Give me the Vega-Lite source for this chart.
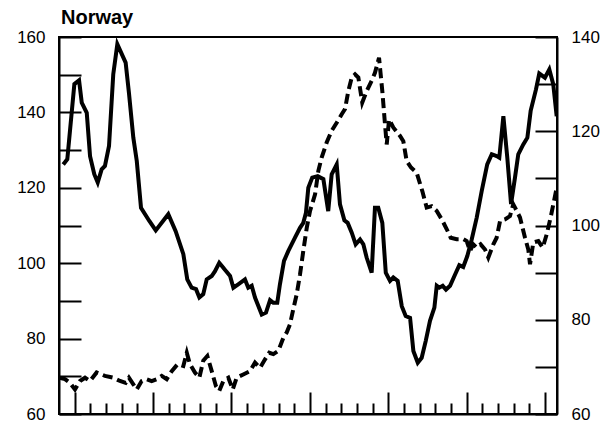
{
  "$schema": "https://vega.github.io/schema/vega-lite/v6.json",
  "width": 498,
  "height": 377,
  "autosize": {"type": "none"},
  "padding": {"left": 59, "top": 37, "right": 56, "bottom": 13},
  "background": "white",
  "title": {"text": "Norway", "anchor": "start", "frame": "group", "fontSize": 20, "fontWeight": "bold", "font": "Liberation Sans", "color": "black", "offset": 0, "dx": 2},
  "config": {
    "view": {"stroke": "black", "strokeWidth": 2},
    "axis": {"labelFont": "Liberation Sans", "labelFontSize": 17, "labelColor": "black", "domainColor": "black", "tickColor": "black", "grid": false, "title": null}
  },
  "datasets": {
    "solid": [
      {"year": 1974.27, "value": 126.2}, {"year": 1974.53, "value": 127.6}, {"year": 1974.98, "value": 147.5}, {"year": 1975.28, "value": 148.5},
      {"year": 1975.45, "value": 142.6}, {"year": 1975.77, "value": 139.9}, {"year": 1975.98, "value": 128.4}, {"year": 1976.25, "value": 123.6},
      {"year": 1976.47, "value": 121.4}, {"year": 1976.72, "value": 124.9}, {"year": 1976.93, "value": 125.8}, {"year": 1977.19, "value": 131.1},
      {"year": 1977.46, "value": 150.1}, {"year": 1977.72, "value": 158.1}, {"year": 1978.25, "value": 153.2}, {"year": 1978.46, "value": 145.2},
      {"year": 1978.74, "value": 133.3}, {"year": 1978.96, "value": 127.1}, {"year": 1979.23, "value": 114.7}, {"year": 1979.76, "value": 111.2},
      {"year": 1980.17, "value": 108.7}, {"year": 1980.97, "value": 113.0}, {"year": 1981.44, "value": 108.5}, {"year": 1981.93, "value": 102.4},
      {"year": 1982.18, "value": 95.7}, {"year": 1982.46, "value": 93.5}, {"year": 1982.74, "value": 93.1}, {"year": 1982.95, "value": 90.9},
      {"year": 1983.2, "value": 91.8}, {"year": 1983.42, "value": 95.7}, {"year": 1983.74, "value": 96.6}, {"year": 1983.95, "value": 97.9},
      {"year": 1984.22, "value": 100.1}, {"year": 1984.48, "value": 98.8}, {"year": 1984.65, "value": 97.9}, {"year": 1984.91, "value": 96.6},
      {"year": 1985.12, "value": 93.5}, {"year": 1985.43, "value": 94.4}, {"year": 1985.86, "value": 95.7}, {"year": 1986.07, "value": 93.5},
      {"year": 1986.29, "value": 94.0}, {"year": 1986.5, "value": 90.9}, {"year": 1986.93, "value": 86.4}, {"year": 1987.2, "value": 86.9},
      {"year": 1987.46, "value": 90.2}, {"year": 1987.67, "value": 89.5}, {"year": 1987.92, "value": 89.5}, {"year": 1988.09, "value": 94.4},
      {"year": 1988.35, "value": 100.6}, {"year": 1988.62, "value": 103.2}, {"year": 1989.05, "value": 106.8}, {"year": 1989.37, "value": 109.4},
      {"year": 1989.58, "value": 110.7}, {"year": 1989.75, "value": 113.4}, {"year": 1989.9, "value": 120.0}, {"year": 1990.15, "value": 122.7},
      {"year": 1990.5, "value": 123.1}, {"year": 1990.86, "value": 122.3}, {"year": 1991.17, "value": 113.8}, {"year": 1991.39, "value": 123.6},
      {"year": 1991.71, "value": 126.2}, {"year": 1991.92, "value": 115.6}, {"year": 1992.2, "value": 111.4}, {"year": 1992.41, "value": 110.7},
      {"year": 1992.67, "value": 108.1}, {"year": 1992.92, "value": 105.0}, {"year": 1993.2, "value": 106.3}, {"year": 1993.41, "value": 105.0},
      {"year": 1993.62, "value": 101.5}, {"year": 1993.94, "value": 97.5}, {"year": 1994.15, "value": 114.7}, {"year": 1994.36, "value": 114.7},
      {"year": 1994.62, "value": 110.7}, {"year": 1994.84, "value": 97.5}, {"year": 1995.11, "value": 95.3}, {"year": 1995.32, "value": 96.2},
      {"year": 1995.6, "value": 95.3}, {"year": 1995.86, "value": 88.6}, {"year": 1996.11, "value": 86.0}, {"year": 1996.39, "value": 85.5},
      {"year": 1996.6, "value": 76.7}, {"year": 1996.88, "value": 73.6}, {"year": 1997.13, "value": 74.9}, {"year": 1997.39, "value": 79.4},
      {"year": 1997.66, "value": 84.7}, {"year": 1997.94, "value": 88.2}, {"year": 1998.09, "value": 94.0}, {"year": 1998.25, "value": 93.5},
      {"year": 1998.47, "value": 94.0}, {"year": 1998.68, "value": 93.0}, {"year": 1998.94, "value": 94.0}, {"year": 1999.26, "value": 97.0},
      {"year": 1999.53, "value": 99.5}, {"year": 1999.78, "value": 99.0}, {"year": 2000.04, "value": 101.9}, {"year": 2000.32, "value": 106.3},
      {"year": 2000.64, "value": 112.1}, {"year": 2000.96, "value": 119.2}, {"year": 2001.31, "value": 126.2}, {"year": 2001.6, "value": 128.9},
      {"year": 2001.91, "value": 128.4}, {"year": 2002.08, "value": 128.0}, {"year": 2002.34, "value": 139.0}, {"year": 2002.59, "value": 128.0},
      {"year": 2002.83, "value": 115.7}, {"year": 2003.08, "value": 122.7}, {"year": 2003.29, "value": 128.9}, {"year": 2003.61, "value": 131.5},
      {"year": 2003.87, "value": 133.3}, {"year": 2004.08, "value": 140.4}, {"year": 2004.42, "value": 146.1}, {"year": 2004.63, "value": 150.3},
      {"year": 2004.99, "value": 149.2}, {"year": 2005.27, "value": 151.4}, {"year": 2005.52, "value": 147.5}, {"year": 2005.74, "value": 139.0}
    ],
    "dashed": [
      {"year": 1974.0, "value": 67.7}, {"year": 1974.38, "value": 67.4}, {"year": 1974.7, "value": 66.6}, {"year": 1975.02, "value": 65.2},
      {"year": 1975.34, "value": 67.0}, {"year": 1975.66, "value": 67.7}, {"year": 1975.98, "value": 67.0}, {"year": 1976.4, "value": 68.8},
      {"year": 1976.93, "value": 68.1}, {"year": 1977.46, "value": 67.7}, {"year": 1977.89, "value": 67.0}, {"year": 1978.25, "value": 66.6},
      {"year": 1978.46, "value": 67.7}, {"year": 1978.74, "value": 66.3}, {"year": 1978.96, "value": 65.2}, {"year": 1979.27, "value": 67.0},
      {"year": 1979.59, "value": 67.4}, {"year": 1979.91, "value": 67.0}, {"year": 1980.23, "value": 67.4}, {"year": 1980.55, "value": 68.1},
      {"year": 1980.87, "value": 67.4}, {"year": 1981.19, "value": 69.1}, {"year": 1981.57, "value": 70.6}, {"year": 1981.93, "value": 70.2},
      {"year": 1982.15, "value": 73.0}, {"year": 1982.35, "value": 70.6}, {"year": 1982.67, "value": 68.8}, {"year": 1982.95, "value": 67.7},
      {"year": 1983.2, "value": 71.3}, {"year": 1983.46, "value": 72.3}, {"year": 1983.74, "value": 69.1}, {"year": 1984.01, "value": 65.9},
      {"year": 1984.22, "value": 64.9}, {"year": 1984.48, "value": 67.0}, {"year": 1984.8, "value": 67.7}, {"year": 1985.08, "value": 65.2},
      {"year": 1985.33, "value": 67.7}, {"year": 1985.75, "value": 68.4}, {"year": 1986.18, "value": 69.1}, {"year": 1986.5, "value": 70.9},
      {"year": 1986.82, "value": 69.8}, {"year": 1987.14, "value": 71.6}, {"year": 1987.41, "value": 73.0}, {"year": 1987.67, "value": 72.7},
      {"year": 1987.99, "value": 73.4}, {"year": 1988.31, "value": 76.2}, {"year": 1988.52, "value": 77.3}, {"year": 1988.73, "value": 79.0},
      {"year": 1988.94, "value": 82.2}, {"year": 1989.16, "value": 85.4}, {"year": 1989.37, "value": 89.6}, {"year": 1989.58, "value": 94.6},
      {"year": 1989.8, "value": 99.5}, {"year": 1990.01, "value": 103.1}, {"year": 1990.33, "value": 106.6}, {"year": 1990.54, "value": 111.6},
      {"year": 1990.75, "value": 114.4}, {"year": 1991.07, "value": 117.6}, {"year": 1991.39, "value": 120.1}, {"year": 1991.71, "value": 121.8},
      {"year": 1992.03, "value": 123.6}, {"year": 1992.24, "value": 124.7}, {"year": 1992.45, "value": 128.5}, {"year": 1992.67, "value": 131.4},
      {"year": 1992.88, "value": 132.1}, {"year": 1993.09, "value": 131.4}, {"year": 1993.34, "value": 126.1}, {"year": 1993.62, "value": 128.5},
      {"year": 1993.94, "value": 130.7}, {"year": 1994.15, "value": 132.4}, {"year": 1994.41, "value": 135.6}, {"year": 1994.62, "value": 128.5},
      {"year": 1994.79, "value": 121.5}, {"year": 1994.9, "value": 117.2}, {"year": 1995.05, "value": 122.5}, {"year": 1995.32, "value": 120.8},
      {"year": 1995.75, "value": 119.0}, {"year": 1995.96, "value": 117.9}, {"year": 1996.17, "value": 113.7}, {"year": 1996.45, "value": 112.3},
      {"year": 1996.81, "value": 111.2}, {"year": 1997.17, "value": 107.3}, {"year": 1997.45, "value": 103.8}, {"year": 1997.77, "value": 104.1},
      {"year": 1998.09, "value": 103.1}, {"year": 1998.41, "value": 101.3}, {"year": 1998.73, "value": 99.2}, {"year": 1998.98, "value": 97.4},
      {"year": 1999.36, "value": 97.1}, {"year": 1999.78, "value": 97.1}, {"year": 2000.0, "value": 96.7}, {"year": 2000.21, "value": 94.6},
      {"year": 2000.42, "value": 96.0}, {"year": 2000.64, "value": 95.3}, {"year": 2000.89, "value": 96.0}, {"year": 2001.17, "value": 94.9},
      {"year": 2001.38, "value": 93.2}, {"year": 2001.7, "value": 96.0}, {"year": 2001.91, "value": 97.4}, {"year": 2002.13, "value": 101.0},
      {"year": 2002.44, "value": 101.3}, {"year": 2002.76, "value": 102.0}, {"year": 2002.97, "value": 104.5}, {"year": 2003.19, "value": 103.1},
      {"year": 2003.4, "value": 101.7}, {"year": 2003.72, "value": 97.4}, {"year": 2003.93, "value": 94.9}, {"year": 2004.04, "value": 91.8},
      {"year": 2004.25, "value": 96.4}, {"year": 2004.57, "value": 96.7}, {"year": 2004.85, "value": 95.3}, {"year": 2005.1, "value": 98.1},
      {"year": 2005.36, "value": 101.8}, {"year": 2005.74, "value": 108.0}
    ]
  },
  "layer": [
    {
      "data": {"name": "solid"},
      "mark": {"type": "line", "color": "black", "strokeWidth": 4, "clip": true},
      "encoding": {
        "x": {"field": "year", "type": "quantitative", "scale": {"domain": [1974, 2005.76], "nice": false, "zero": false},
          "axis": {"orient": "bottom", "values": [1975, 1980, 1985, 1990, 1995, 2000, 2005], "labels": false, "tickSize": -22, "tickWidth": 2, "domainWidth": 2}},
        "y": {"field": "value", "type": "quantitative", "scale": {"domain": [60, 160], "nice": false, "zero": false},
          "axis": {"orient": "left", "values": [60, 70, 80, 90, 100, 110, 120, 130, 140, 150, 160], "labelExpr": "datum.value % 20 == 0 ? datum.label : ''", "tickSize": -22, "tickWidth": 2, "domainWidth": 2, "labelPadding": 36}}
      }
    },
    {
      "data": {"name": "dashed"},
      "mark": {"type": "line", "color": "black", "strokeWidth": 4, "strokeDash": [10, 5], "clip": true},
      "encoding": {
        "x": {"field": "year", "type": "quantitative", "scale": {"domain": [1974, 2005.76], "nice": false, "zero": false},
          "axis": {"orient": "bottom", "values": [1976, 1977, 1978, 1979, 1981, 1982, 1983, 1984, 1986, 1987, 1988, 1989, 1991, 1992, 1993, 1994, 1996, 1997, 1998, 1999, 2001, 2002, 2003, 2004], "labels": false, "tickSize": -11, "tickWidth": 2, "domain": false}},
        "y": {"field": "value", "type": "quantitative", "scale": {"domain": [60, 140], "nice": false, "zero": false},
          "axis": {"orient": "right", "values": [60, 70, 80, 90, 100, 110, 120, 130, 140], "labelExpr": "datum.value % 20 == 0 ? datum.label : ''", "tickSize": -22, "tickWidth": 2, "domainWidth": 2, "labelPadding": 36}}
      }
    }
  ],
  "resolve": {"scale": {"y": "independent"}, "axis": {"x": "independent"}}
}
